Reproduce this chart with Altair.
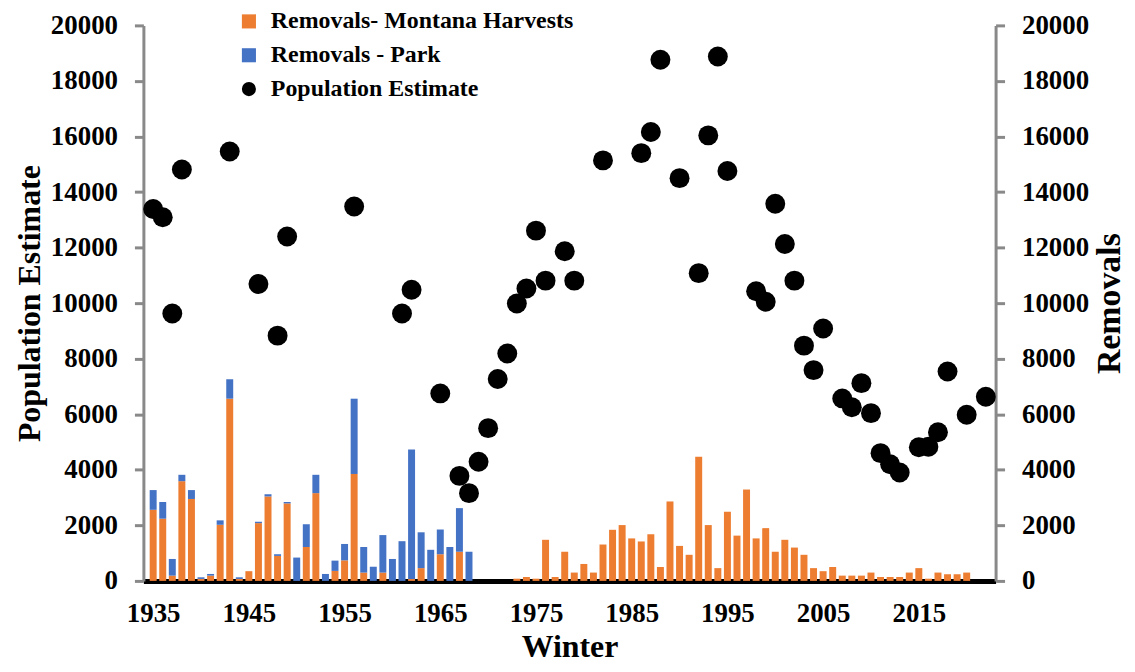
import altair as alt
import pandas as pd

# ---------------- data ----------------
years = list(range(1935, 2023))

montana = [
    2560, 2240, 190, 3590, 2950, 70, 190, 2020, 6560, 70,      # 1935-1944
    350, 2080, 3040, 900, 2790, 0, 1220, 3160, 0, 360,          # 1945-1954
    740, 3850, 300, 0, 300, 0, 0, 70, 460, 0,                   # 1955-1964
    960, 0, 1050, 0, 0, 0, 0, 0, 80, 140,                       # 1965-1974
    80, 1480, 140, 1050, 300, 610, 300, 1310, 1840, 2010,       # 1975-1984
    1530, 1420, 1680, 500, 2860, 1260, 940, 4470, 2010, 460,    # 1985-1994
    2490, 1630, 3290, 1530, 1900, 1050, 1480, 1200, 940, 460,   # 1995-2004
    350, 500, 190, 190, 190, 300, 140, 140, 140, 300,           # 2005-2014
    460, 80, 300, 240, 240, 300, 0, 0,                          # 2015-2022
]

park = [
    710, 600, 600, 230, 320, 60, 60, 160, 700, 60,              # 1935-1944
    0, 50, 80, 60, 50, 840, 820, 660, 250, 370,                 # 1945-1954
    590, 2710, 920, 510, 1350, 790, 1430, 4660, 1290, 1120,     # 1955-1964
    890, 1220, 1570, 1050, 0, 0, 0, 0, 0, 0,                    # 1965-1974
    0, 0, 0, 0, 0, 0, 0, 0, 0, 0,                               # 1975-1984
    0, 0, 0, 0, 0, 0, 0, 0, 0, 0,                               # 1985-1994
    0, 0, 0, 0, 0, 0, 0, 0, 0, 0,                               # 1995-2004
    0, 0, 0, 0, 0, 0, 0, 0, 0, 0,                               # 2005-2014
    0, 0, 0, 0, 0, 0, 0, 0,                                     # 2015-2022
]

pop_years = [
    1935, 1936, 1937, 1938, 1943, 1946, 1948, 1949, 1956, 1961,
    1962, 1965, 1967, 1968, 1969, 1970, 1971, 1972, 1973, 1974,
    1975, 1976, 1978, 1979, 1982, 1986, 1987, 1988, 1990, 1992,
    1993, 1994, 1995, 1998, 1999, 2000, 2001, 2002, 2003, 2004,
    2005, 2007, 2008, 2009, 2010, 2011, 2012, 2013, 2015, 2016,
    2017, 2018, 2020, 2022,
]
pop_values = [
    13390, 13090, 9630, 14810, 15460, 10690, 8830, 12400, 13480, 9630,
    10480, 6750, 3780, 3160, 4290, 5500, 7270, 8190, 9990, 10530,
    12610, 10810, 11870, 10810, 15140, 15400, 16160, 18760, 14500, 11080,
    16040, 18880, 14760, 10430, 10050, 13580, 12130, 10810, 8470, 7590,
    9090, 6570, 6250, 7120, 6040, 4600, 4200, 3900, 4810, 4830,
    5350, 7540, 5980, 6630,
]

series_names = ["Removals- Montana Harvests", "Removals - Park", "Population Estimate"]
series_colors = ["#ED7D31", "#4472C4", "#000000"]
series_shapes = ["square", "square", "circle"]
x_ticks = list(range(1935, 2016, 10))
y_ticks = list(range(0, 20001, 2000))

# ---------------- tables ----------------
rows = []
for yr, m, p in zip(years, montana, park):
    rows.append({"year": yr, "value": m, "series": series_names[0], "ord": 0})
    rows.append({"year": yr, "value": p, "series": series_names[1], "ord": 1})
bars_df = pd.DataFrame(rows)
pop_df = pd.DataFrame({"year": pop_years, "pop": pop_values, "series": series_names[2]})

FONT = "Liberation Serif"
GRAY = "#898989"

x_enc = alt.X(
    "year:Q",
    scale=alt.Scale(domain=[1934.5, 2022.5], nice=False, zero=False),
    axis=alt.Axis(
        values=x_ticks, format="d", title="Winter", ticks=False,
        domainColor="black", domainWidth=5, labelPadding=20,
        labelFontSize=27, titleFontSize=32, titlePadding=5, labelFlush=False,
    ),
)

color_scale = alt.Scale(domain=series_names, range=series_colors)


def make_legend():
    return alt.Legend(
        title=None, orient="none", legendX=94, legendY=-16, direction="vertical",
        labelFont=FONT, labelFontWeight="bold", labelFontSize=24, labelColor="black",
        symbolSize=200, symbolStrokeWidth=0, rowPadding=10, labelOffset=10,
        labelLimit=500, symbolOpacity=1,
    )


bars = alt.Chart(bars_df).mark_bar(size=7).encode(
    x=x_enc,
    y=alt.Y(
        "value:Q", stack="zero",
        scale=alt.Scale(domain=[0, 20000], nice=False),
        axis=alt.Axis(
            orient="right", values=y_ticks, format="d", title="Removals",
            domainColor=GRAY, domainWidth=3, tickColor=GRAY, tickWidth=3, tickSize=9,
            labelPadding=17, labelFontSize=27, titleFontSize=34, titlePadding=4,
            titleAngle=270, titleBaseline="top",
        ),
    ),
    color=alt.Color("series:N", scale=color_scale, legend=make_legend()),
    order=alt.Order("ord:Q", sort="ascending"),
)

points = alt.Chart(pop_df).mark_point(filled=True, size=400, opacity=1).encode(
    x=x_enc,
    y=alt.Y(
        "pop:Q",
        scale=alt.Scale(domain=[0, 20000], nice=False),
        axis=alt.Axis(
            orient="left", values=y_ticks, format="d", title="Population Estimate",
            domainColor=GRAY, domainWidth=3, tickColor=GRAY, tickWidth=3, tickSize=9,
            labelPadding=17, labelFontSize=27, titleFontSize=32, titlePadding=4,
        ),
    ),
    color=alt.Color("series:N", scale=color_scale, legend=make_legend()),
    shape=alt.Shape(
        "series:N",
        scale=alt.Scale(domain=series_names, range=series_shapes),
        legend=make_legend(),
    ),
)

chart = (
    alt.layer(bars, points)
    .resolve_scale(y="independent")
    .properties(
        width=1124, height=656, background="white",
        autosize=alt.AutoSizeParams(type="fit", contains="padding"),
        padding={"left": 5, "top": 2, "right": 0, "bottom": 0},
    )
    .configure_view(stroke=None)
    .configure_axis(
        grid=False,
        labelFont=FONT, labelFontWeight="bold", labelColor="black",
        titleFont=FONT, titleFontWeight="bold", titleColor="black",
    )
)

chart.save("out.html", embed_options={"renderer": "svg", "actions": False})
